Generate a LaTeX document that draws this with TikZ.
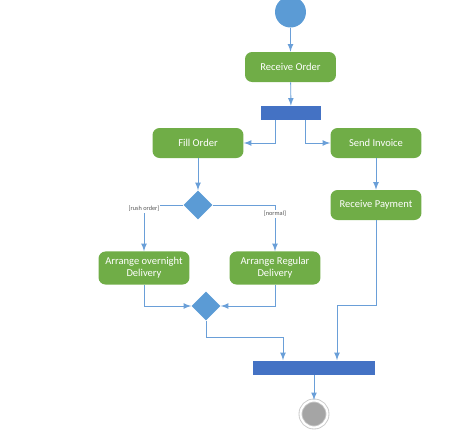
\documentclass[tikz,border=0pt]{standalone}
\usepackage{fontspec}
\setmainfont{Carlito}
\usepackage{tikz}
\usetikzlibrary{arrows,positioning,shapes}
\definecolor{actgreen}{HTML}{70AD47}
\definecolor{barblue}{HTML}{4472C4}
\definecolor{nodeblue}{HTML}{5B9BD5}
\definecolor{lineblue}{HTML}{6A9FD8}
\definecolor{endgray}{HTML}{A5A5A5}
\definecolor{ringgray}{HTML}{C8C8C8}
\definecolor{guardgray}{HTML}{595959}

\begin{document}
\begin{tikzpicture}[x=0.02cm,y=-0.02cm]
\tikzstyle{activity}=[rounded corners=4pt,fill=actgreen,text=white,minimum width=1.82cm,minimum height=0.6cm,align=center,font=\fontsize{6}{7}\selectfont]
\tikzstyle{bar}=[fill=barblue,inner sep=0pt,minimum height=0.28cm]
\tikzstyle{choice}=[diamond,fill=nodeblue,inner sep=0pt,minimum width=0.58cm,minimum height=0.58cm]
\tikzstyle{arrow}=[lineblue,line width=0.5pt,->,>=latex]
\tikzstyle{guard}=[fill=white,text=guardgray,inner sep=0.5pt,font=\fontsize{3.6}{4}\selectfont]
\useasboundingbox (0,0) rectangle (474,437);
% start and first action
\node [circle,fill=nodeblue,minimum size=0.62cm,inner sep=0pt] at (290.5,12) (start) {};
\node [activity] at (290.5,67) (recv) {Receive Order};
\node [bar,minimum width=1.2cm] at (291,113) (fork) {};
% two parallel branches
\node [activity] at (198,143) (fill) {Fill Order};
\node [activity] at (376,143) (send) {Send Invoice};
\node [choice] at (198,205) (dec) {};
\node [activity] at (376,205) (pay) {Receive Payment};
\node [activity] at (144,268) (over) {Arrange overnight\\Delivery};
\node [activity] at (275,268) (reg) {Arrange Regular\\Delivery};
\node [choice] at (206,306) (merge) {};
% join and end
\node [bar,minimum width=2.44cm] at (314,367.5) (join) {};
\node [circle,fill=endgray,draw=ringgray,line width=0.5pt,double=white,double distance=1.2pt,minimum size=0.54cm,inner sep=0pt] at (314,414) (final) {};
\draw [arrow] (start) edge (recv);
\draw [arrow] (recv) edge (fork);
\draw [arrow] ([xshift=-0.32cm]fork.south) |- (fill.east);
\draw [arrow] ([xshift=0.28cm]fork.south) |- (send.west);
\draw [arrow] (fill) edge (dec);
\draw [arrow] (send) edge (pay);
\draw [arrow] (dec.west) -| (over.north);
\draw [arrow] (dec.east) -| (reg.north);
\draw [arrow] (over.south) |- (merge.west);
\draw [arrow] (reg.south) |- (merge.east);
\draw [arrow] (merge.south) -- ++(0,17) -| ([xshift=-0.62cm]join.north);
\draw [arrow] (pay.south) -- ++(0,85) -| ([xshift=0.46cm]join.north);
\draw [arrow] (join) edge (final);
\node [guard] at (144,209) (rush) {[rush order]};
\node [guard] at (275,214) (normal) {[normal]};
\end{tikzpicture}
\end{document}
